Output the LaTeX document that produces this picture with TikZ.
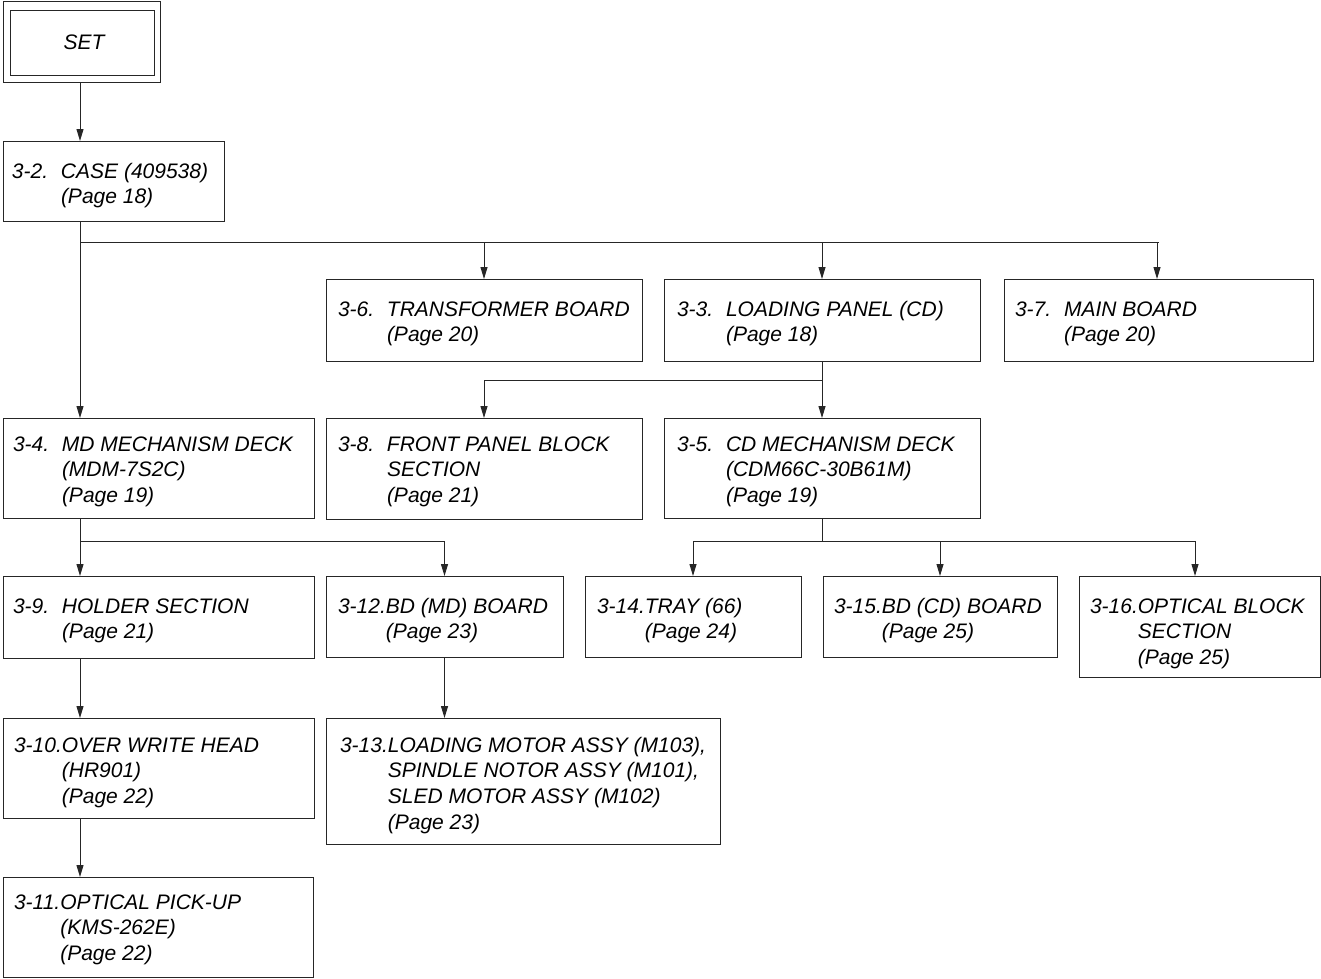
\documentclass[tikz,border=0pt]{standalone}
\usepackage{fontspec}
\setmainfont{Liberation Sans}
\usetikzlibrary{arrows.meta}
\newcommand{\nm}[1]{\makebox[49pt][l]{#1}}
\tikzset{
  box/.style={draw=black!85, line width=1pt, rectangle, inner sep=0pt, outer sep=0pt},
  lbl/.style={inner sep=0pt, outer sep=0pt, anchor=base west, font=\fontsize{21}{25.7}\selectfont\itshape},
  conn/.style={draw=black!85, line width=1pt},
  arr/.style={conn, -{Triangle[length=12pt,width=7pt]}}
}
\newcommand{\bx}[5]{\node[box, minimum width={#4-#2}, minimum height={#5-#3}] (#1) at ({(#2+#4)/2},{(#3+#5)/2}) {};}
\newcommand{\tb}[1]{\begin{tabular}[t]{@{}l@{}l@{}}#1\end{tabular}}
\begin{document}
\begin{tikzpicture}[x=1pt,y=-1pt]
\useasboundingbox (0,0) rectangle (1321,978);
% boxes
\bx{setouter}{3}{1}{160}{82}
\bx{set}{10}{10}{154}{75}
\bx{case}{3}{141}{224}{221}
\bx{trans}{326}{279}{642}{361}
\bx{load}{664}{279}{980}{361}
\bx{mainb}{1004}{279}{1313}{361}
\bx{md}{3}{418}{314}{518}
\bx{front}{326}{418}{642}{519}
\bx{cdm}{664}{418}{980}{518}
\bx{holder}{3}{576}{314}{658}
\bx{bdmd}{326}{576}{563}{657}
\bx{tray}{585}{576}{801}{657}
\bx{bdcd}{823}{576}{1057}{657}
\bx{opt}{1079}{576}{1320}{677}
\bx{head}{3}{718}{314}{818}
\bx{motor}{326}{718}{720}{844}
\bx{pickup}{3}{877}{313}{977}
% texts
\node[lbl, anchor=center] (tset) at ([xshift=2pt]set.center) {SET};
\node[lbl] (tcase) at (12,178) {\tb{\nm{3-2.}&CASE (409538)\\&(Page 18)}};
\node[lbl] (ttrans) at (338,316) {\tb{\nm{3-6.}&TRANSFORMER BOARD\\&(Page 20)}};
\node[lbl] (tload) at (677,316) {\tb{\nm{3-3.}&LOADING PANEL (CD)\\&(Page 18)}};
\node[lbl] (tmain) at (1015,316) {\tb{\nm{3-7.}&MAIN BOARD\\&(Page 20)}};
\node[lbl] (tmd) at (13,451) {\tb{\nm{3-4.}&MD MECHANISM DECK\\&(MDM-7S2C)\\&(Page 19)}};
\node[lbl] (tfront) at (338,451) {\tb{\nm{3-8.}&FRONT PANEL BLOCK\\&SECTION\\&(Page 21)}};
\node[lbl] (tcdm) at (677,451) {\tb{\nm{3-5.}&CD MECHANISM DECK\\&(CDM66C-30B61M)\\&(Page 19)}};
\node[lbl] (tholder) at (13,613) {\tb{\nm{3-9.}&HOLDER SECTION\\&(Page 21)}};
\node[lbl] (tbdmd) at (338,613) {\tb{3-12.&BD (MD) BOARD\\&(Page 23)}};
\node[lbl] (ttray) at (597,613) {\tb{3-14.&TRAY (66)\\&(Page 24)}};
\node[lbl] (tbdcd) at (834,613) {\tb{3-15.&BD (CD) BOARD\\&(Page 25)}};
\node[lbl] (topt) at (1090,613) {\tb{3-16.&OPTICAL BLOCK\\&SECTION\\&(Page 25)}};
\node[lbl] (thead) at (14,752) {\tb{3-10.&OVER WRITE HEAD\\&(HR901)\\&(Page 22)}};
\node[lbl] (tmotor) at (340,752) {\tb{3-13.&LOADING MOTOR ASSY (M103),\\&SPINDLE NOTOR ASSY (M101),\\&SLED MOTOR ASSY (M102)\\&(Page 23)}};
\node[lbl] (tpickup) at (14,909) {\tb{3-11.&OPTICAL PICK-UP\\&(KMS-262E)\\&(Page 22)}};
% connectors
\draw[arr] ([xshift=-1.5pt]setouter.south) -- ([xshift=77pt]case.north west);
\coordinate (bus1) at (80,242);
\draw[arr] ([xshift=77pt]case.south west) -- ([xshift=77pt]md.north west);
\draw[conn] (bus1) -- (bus1 -| mainb.north);
\draw[arr] (bus1 -| trans.north) -- (trans.north);
\draw[arr] (bus1 -| load.north) -- (load.north);
\draw[arr] ([xshift=-1.5pt]bus1 -| mainb.north) -- ([xshift=-1.5pt]mainb.north);
\coordinate (bus2) at (822,380);
\draw[conn] (load.south) -- (bus2) -- (bus2 -| front.north);
\draw[arr] (bus2 -| front.north) -- (front.north);
\draw[arr] (bus2) -- (cdm.north);
\coordinate (bus3) at (80,541);
\draw[conn] ([xshift=77pt]md.south west) -- (bus3) -- (bus3 -| bdmd.north);
\draw[arr] (bus3) -- ([xshift=77pt]holder.north west);
\draw[arr] (bus3 -| bdmd.north) -- (bdmd.north);
\coordinate (bus4) at (822,541);
\draw[conn] (cdm.south) -- (bus4);
\draw[conn] (bus4 -| tray.north) -- ([xshift=116pt]bus4 -| opt.north west);
\draw[arr] (bus4 -| tray.north) -- (tray.north);
\draw[arr] (bus4 -| bdcd.north) -- (bdcd.north);
\draw[arr] ([xshift=116pt]bus4 -| opt.north west) -- ([xshift=116pt]opt.north west);
\draw[arr] ([xshift=77pt]holder.south west) -- ([xshift=77pt]head.north west);
\draw[arr] (bdmd.south) -- (bdmd.south |- motor.north);
\draw[arr] ([xshift=77pt]head.south west) -- ([xshift=77pt]pickup.north west);
\end{tikzpicture}
\end{document}
